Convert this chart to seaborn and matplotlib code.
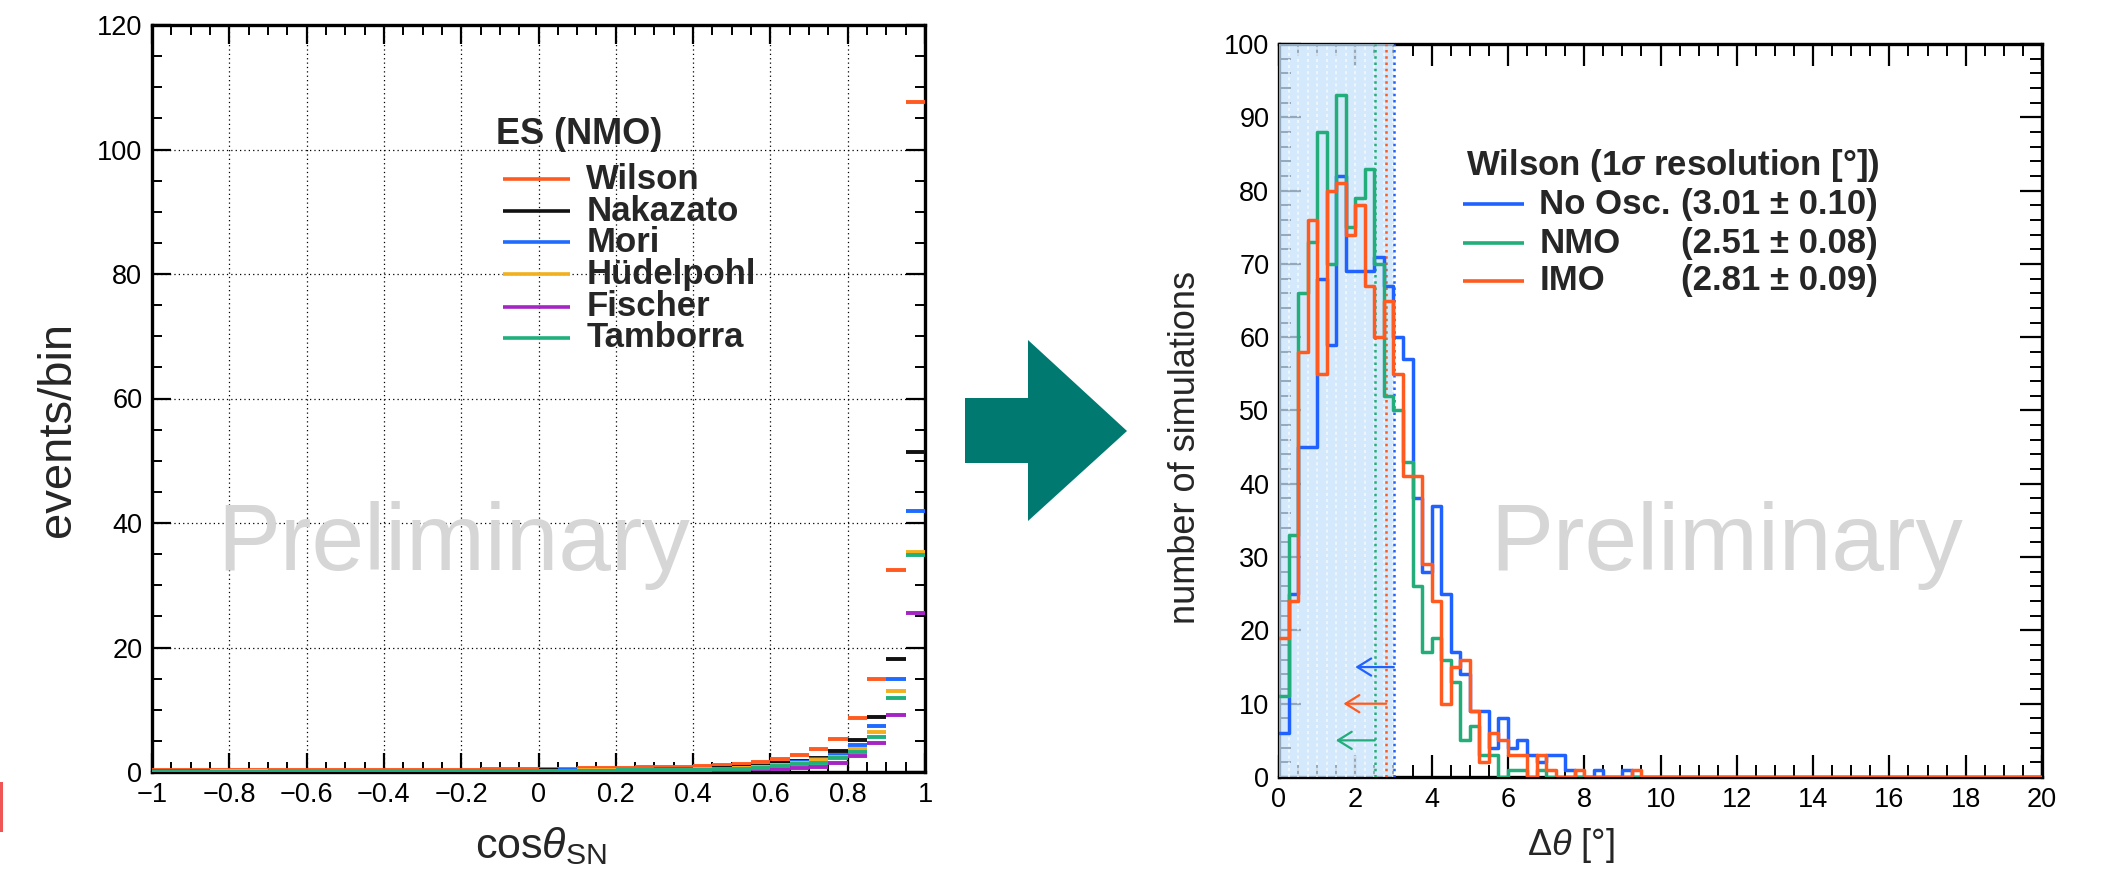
import numpy as np
import pandas as pd
import matplotlib
matplotlib.use("Agg")
import matplotlib.pyplot as plt
import seaborn as sns
from matplotlib.patches import Polygon, Rectangle
from matplotlib.ticker import MultipleLocator, FuncFormatter

# ---------------- left panel: ES events per bin vs cos(theta_SN) ----------------
cos_lo, cos_hi, cos_bin = -1.0, 1.0, 0.05
model_names = ["Wilson", "Nakazato", "Mori", "Hüdelpohl", "Fischer", "Tamborra"]
model_colors = ["#ff5a1f", "#111111", "#1f6bff", "#f2b01e", "#a424c4", "#1fb07d"]

wilson = [0.25, 0.25, 0.26, 0.26, 0.27, 0.27, 0.28, 0.29, 0.30, 0.31,
          0.32, 0.33, 0.34, 0.35, 0.37, 0.38, 0.40, 0.42, 0.44, 0.47,
          0.50, 0.54, 0.58, 0.63, 0.68, 0.74, 0.80, 0.87, 0.95, 1.05,
          1.30, 1.60, 2.10, 2.70, 3.75, 5.35, 8.60, 15.0, 32.4, 107.7]
nakazato = [0.10, 0.10, 0.10, 0.11, 0.11, 0.11, 0.12, 0.12, 0.13, 0.13,
            0.14, 0.14, 0.15, 0.16, 0.17, 0.18, 0.19, 0.20, 0.21, 0.23,
            0.25, 0.27, 0.29, 0.32, 0.35, 0.38, 0.42, 0.47, 0.53, 0.60,
            0.75, 0.95, 1.40, 1.80, 2.30, 3.30, 5.15, 8.85, 18.1, 51.4]
mori = [0.09, 0.09, 0.09, 0.10, 0.10, 0.10, 0.11, 0.11, 0.12, 0.12,
        0.13, 0.13, 0.14, 0.15, 0.16, 0.17, 0.18, 0.19, 0.20, 0.22,
        0.24, 0.26, 0.28, 0.31, 0.34, 0.37, 0.41, 0.45, 0.50, 0.55,
        0.65, 0.85, 1.20, 1.60, 2.15, 2.70, 4.40, 7.40, 15.0, 42.0]
huedelpohl = [0.08, 0.08, 0.08, 0.09, 0.09, 0.09, 0.10, 0.10, 0.10, 0.11,
              0.11, 0.12, 0.12, 0.13, 0.14, 0.15, 0.16, 0.17, 0.18, 0.19,
              0.21, 0.23, 0.25, 0.27, 0.30, 0.33, 0.36, 0.40, 0.44, 0.49,
              0.58, 0.75, 1.05, 1.45, 1.90, 2.40, 3.75, 6.50, 13.0, 35.3]
fischer = [0.05, 0.05, 0.05, 0.05, 0.06, 0.06, 0.06, 0.06, 0.07, 0.07,
           0.07, 0.08, 0.08, 0.08, 0.09, 0.09, 0.10, 0.10, 0.11, 0.12,
           0.13, 0.14, 0.15, 0.16, 0.18, 0.20, 0.22, 0.24, 0.27, 0.30,
           0.36, 0.45, 0.55, 0.70, 0.85, 1.50, 2.57, 4.60, 9.10, 25.5]
tamborra = [0.07, 0.07, 0.07, 0.08, 0.08, 0.08, 0.09, 0.09, 0.09, 0.10,
            0.10, 0.11, 0.11, 0.12, 0.12, 0.13, 0.14, 0.15, 0.16, 0.17,
            0.18, 0.20, 0.22, 0.24, 0.26, 0.29, 0.32, 0.35, 0.39, 0.43,
            0.52, 0.68, 0.97, 1.24, 1.50, 2.20, 3.27, 5.60, 11.9, 34.8]
model_counts = [wilson, nakazato, mori, huedelpohl, fischer, tamborra]

# ---------------- right panel: pointing error over simulated supernovae ----------------
dtheta_lo, dtheta_hi, dtheta_bin = 0.0, 20.0, 0.25
case_names = ["No Osc.", "NMO", "IMO"]
case_values = ["(3.01 ± 0.10)", "(2.51 ± 0.08)", "(2.81 ± 0.09)"]
case_colors = ["#1f62ff", "#22ad7a", "#ff5a1f"]
resolution_1sigma = [3.01, 2.51, 2.81]
arrow_levels = [15, 5, 10]
arrow_tips = [2.0, 1.49, 1.69]

no_osc = [6, 25, 45, 45, 68, 59, 82, 69, 69, 69,
          71, 67, 60, 57, 38, 28, 37, 25, 17, 14,
          9, 9, 4, 8, 4, 5, 3, 2, 3, 3,
          1, 0, 0, 1, 0, 0, 1, 0, 0, 0,
          0, 0, 0, 0, 0, 0, 0, 0, 0, 0,
          0, 0, 0, 0, 0, 0, 0, 0, 0, 0,
          0, 0, 0, 0, 0, 0, 0, 0, 0, 0,
          0, 0, 0, 0, 0, 0, 0, 0, 0, 0]
nmo = [11, 33, 66, 73, 88, 70, 93, 75, 79, 83,
       70, 52, 50, 43, 26, 17, 19, 16, 13, 5,
       7, 3, 3, 0, 1, 1, 0, 1, 0, 0,
       0, 0, 0, 0, 0, 0, 0, 0, 0, 0,
       0, 0, 0, 0, 0, 0, 0, 0, 0, 0,
       0, 0, 0, 0, 0, 0, 0, 0, 0, 0,
       0, 0, 0, 0, 0, 0, 0, 0, 0, 0,
       0, 0, 0, 0, 0, 0, 0, 0, 0, 0]
imo = [19, 24, 58, 76, 55, 80, 81, 74, 78, 67,
       60, 65, 55, 41, 41, 29, 24, 10, 15, 16,
       9, 2, 6, 5, 3, 3, 0, 3, 1, 0,
       0, 1, 0, 0, 0, 0, 0, 1, 0, 0,
       0, 0, 0, 0, 0, 0, 0, 0, 0, 0,
       0, 0, 0, 0, 0, 0, 0, 0, 0, 0,
       0, 0, 0, 0, 0, 0, 0, 0, 0, 0,
       0, 0, 0, 0, 0, 0, 0, 0, 0, 0]
case_counts = [no_osc, nmo, imo]

# ---------------- style ----------------
sns.set_style("white")
plt.rcParams["font.family"] = ["Liberation Sans", "DejaVu Sans"]
plt.rcParams["mathtext.fontset"] = "custom"
plt.rcParams["mathtext.rm"] = "Liberation Sans"
plt.rcParams["mathtext.it"] = "Liberation Sans:italic"
plt.rcParams["mathtext.bf"] = "Liberation Sans:bold"
plt.rcParams["mathtext.bfit"] = "Liberation Sans:italic:bold"
plt.rcParams["axes.unicode_minus"] = True

W, H = 2105, 873
fig = plt.figure(figsize=(W / 100, H / 100), dpi=100)
fig.patch.set_facecolor("white")


def px_axes(x0, y0, x1, y1):
    """Axes box given in figure pixels (top-left origin)."""
    return fig.add_axes([x0 / W, 1 - y1 / H, (x1 - x0) / W, (y1 - y0) / H])


TICK_FS = 19.5


def frame(ax, major_len, minor_len):
    for s in ax.spines.values():
        s.set_visible(True)
        s.set_linewidth(2.4)
        s.set_color("black")
    ax.tick_params(which="both", direction="in", top=True, right=True,
                   bottom=True, left=True, colors="black", labelsize=TICK_FS)
    ax.tick_params(which="major", length=major_len, width=1.6)
    ax.tick_params(which="minor", length=minor_len, width=1.4)


# ======== left panel ========
axL = px_axes(152, 25, 925, 772)
edges_cos = np.arange(cos_lo, cos_hi + cos_bin / 2, cos_bin)
centres_cos = 0.5 * (edges_cos[:-1] + edges_cos[1:])
for name, col, vals in zip(model_names, model_colors, model_counts):
    axL.errorbar(centres_cos, vals, xerr=cos_bin / 2, fmt="none",
                 ecolor=col, elinewidth=2.8, capsize=0, zorder=3)

axL.set_xlim(cos_lo, cos_hi)
axL.set_ylim(0, 120)
axL.xaxis.set_major_locator(MultipleLocator(0.2))
axL.xaxis.set_minor_locator(MultipleLocator(0.05))
axL.yaxis.set_major_locator(MultipleLocator(20))
axL.yaxis.set_minor_locator(MultipleLocator(5))
axL.xaxis.set_major_formatter(FuncFormatter(
    lambda v, p: "0" if abs(v) < 1e-9 else f"{v:g}".replace("-", "\u2212")))
frame(axL, 14, 7)
axL.tick_params(axis="x", pad=7)
axL.tick_params(axis="y", pad=7)
axL.grid(True, which="major", color="black", linestyle=(0, (1, 2.5)), linewidth=0.9)

axL.set_xlabel(r"cos$\theta_{\rm SN}$", fontsize=31, va="center")
axL.xaxis.set_label_coords(0.503, -0.099)
axL.set_ylabel("events/bin", fontsize=34, va="center")
axL.yaxis.set_label_coords(-0.121, 0.458)

axL.text(-0.22, 32.5, "Preliminary", fontsize=68, color="#d6d6d6",
         ha="center", va="baseline", zorder=1)

# legend rows drawn in axes coordinates
axL.text(0.445, 0.853, "ES (NMO)", transform=axL.transAxes, fontsize=26,
         fontweight="bold", ha="left", va="center")
rows_L = [0.7936, 0.7507, 0.7091, 0.6662, 0.6227, 0.5811]
for name, col, yy in zip(model_names, model_colors, rows_L):
    axL.plot([0.4535, 0.541], [yy, yy], color=col, lw=2.6,
             transform=axL.transAxes, solid_capstyle="butt")
    axL.text(0.562, yy, name, transform=axL.transAxes, fontsize=25,
             fontweight="bold", ha="left", va="center")

# ======== right panel ========
axR = px_axes(1279, 44, 2042, 777)
edges_dt = np.arange(dtheta_lo, dtheta_hi + dtheta_bin / 2, dtheta_bin)
centres_dt = 0.5 * (edges_dt[:-1] + edges_dt[1:])
for name, col, vals in zip(case_names, case_colors, case_counts):
    hist_df = pd.DataFrame({"dtheta": centres_dt, "n_sim": vals})
    sns.histplot(data=hist_df, x="dtheta", weights="n_sim",
                 binwidth=dtheta_bin, binrange=(dtheta_lo, dtheta_hi),
                 element="step", fill=False, color=col, linewidth=2.5,
                 ax=axR, zorder=4)

# shaded 1-sigma region of the no-oscillation case
axR.axvspan(0, resolution_1sigma[0], facecolor="#c6e2fa", alpha=0.75,
            lw=0, zorder=2.6)
for xk in np.arange(dtheta_bin, resolution_1sigma[0], dtheta_bin):
    axR.axvline(xk, color="white", lw=1.1, ls=(0, (2, 2)), alpha=0.8, zorder=2.7)
for col, res, lev, tip in zip(case_colors, resolution_1sigma, arrow_levels, arrow_tips):
    axR.axvline(res, color=col, lw=1.8, ls=(0, (1, 1.5)), zorder=3)
    axR.annotate("", xy=(tip, lev), xytext=(res, lev),
                 arrowprops=dict(arrowstyle="->,head_length=0.45,head_width=0.28",
                                 color=col, lw=1.6, mutation_scale=22,
                                 shrinkA=0, shrinkB=0), zorder=5)

axR.set_xlim(dtheta_lo, dtheta_hi)
axR.set_ylim(0, 100)
axR.xaxis.set_major_locator(MultipleLocator(2))
axR.xaxis.set_minor_locator(MultipleLocator(0.5))
axR.yaxis.set_major_locator(MultipleLocator(10))
axR.yaxis.set_minor_locator(MultipleLocator(2))
frame(axR, 16, 8.5)
axR.tick_params(axis="x", pad=7)
axR.tick_params(axis="y", pad=7)

axR.set_xlabel(r"$\Delta\theta$ [°]", fontsize=26, va="center")
axR.xaxis.set_label_coords(0.383, -0.094)
axR.set_ylabel("number of simulations", fontsize=26, va="center")
axR.yaxis.set_label_coords(-0.122, 0.45)

axR.text(11.73, 28.2, "Preliminary", fontsize=68, color="#d6d6d6",
         ha="center", va="baseline", zorder=1)

axR.text(0.245, 0.8345, r"Wilson (1$\mathbfit{\sigma}$ resolution [°])",
         transform=axR.transAxes, fontsize=25, fontweight="bold",
         ha="left", va="center")
rows_R = [0.7817, 0.7285, 0.6767]
for name, val, col, yy in zip(case_names, case_values, case_colors, rows_R):
    axR.plot([0.241, 0.321], [yy, yy], color=col, lw=2.6,
             transform=axR.transAxes, solid_capstyle="butt")
    axR.text(0.341, yy, name, transform=axR.transAxes, fontsize=25,
             fontweight="bold", ha="left", va="center")
    axR.text(0.527, yy, val, transform=axR.transAxes, fontsize=25,
             fontweight="bold", ha="left", va="center")

# ======== connecting arrow between the panels ========
arrow_px = [(965, 398), (1028, 398), (1028, 340), (1127, 431),
            (1028, 521), (1028, 463), (965, 463)]
fig.patches.append(Polygon([(x / W, 1 - y / H) for x, y in arrow_px],
                           closed=True, transform=fig.transFigure,
                           facecolor="#007a70", edgecolor="none"))
fig.patches.append(Rectangle((0, 1 - 832 / H), 3 / W, 50 / H,
                             transform=fig.transFigure,
                             facecolor="#f05555", edgecolor="none"))

fig.savefig("out.png", dpi=100, facecolor="white")
